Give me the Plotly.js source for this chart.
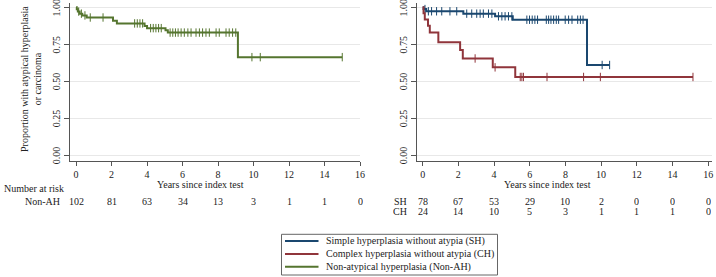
<!DOCTYPE html>
<html>
<head>
<meta charset="utf-8">
<script src="https://cdn.plot.ly/plotly-3.0.1.min.js"></script>
<style>html,body{margin:0;padding:0;background:#fff;}#chart{width:716px;height:277px;}</style>
</head>
<body>
<div id="chart"></div>
<script>
// ---- Data ----
// Non-atypical hyperplasia (left panel)
var nonAH_eventTimes = [0.04, 0.1, 0.2, 0.35, 0.6, 2.08, 2.3, 3.86, 4.0, 5.04, 5.17, 9.12];
var nonAH_surv       = [0.985, 0.970, 0.956, 0.944, 0.930, 0.908, 0.890, 0.873, 0.858, 0.843, 0.828, 0.662];
var nonAH_end = 15.0;
var nonAH_censor = [0.15, 0.3, 0.5, 0.8, 1.52, 3.3, 3.45, 3.6, 3.75, 4.2, 4.35, 4.5, 4.65, 4.8,
  5.3, 5.45, 5.6, 5.75, 5.92, 6.1, 6.3, 6.48, 6.76, 6.95, 7.13, 7.32, 7.51, 7.89, 8.07, 8.45,
  8.63, 8.82, 9.0, 9.91, 10.38, 15.0];

// Simple hyperplasia without atypia (right panel)
var SH_eventTimes = [0.05, 0.2, 2.28, 4.06, 5.05, 9.21];
var SH_surv       = [0.987, 0.972, 0.956, 0.938, 0.915, 0.609];
var SH_end = 10.48;
var SH_censor = [0.13, 0.32, 0.5, 0.78, 1.07, 1.53, 1.91, 2.47, 2.75, 3.03, 3.22, 3.4, 3.69, 3.88,
  4.25, 4.44, 4.62, 4.81, 5.0, 5.84, 5.99, 6.14, 6.29, 6.44, 6.93, 7.06, 7.19, 7.34, 7.49, 7.62,
  7.99, 8.18, 8.37, 8.69, 8.84, 8.99, 10.06, 10.48];

// Complex hyperplasia without atypia (right panel)
var CH_eventTimes = [0.05, 0.12, 0.3, 0.4, 0.88, 2.1, 2.25, 3.93, 5.19];
var CH_surv       = [0.958, 0.917, 0.875, 0.828, 0.762, 0.711, 0.653, 0.593, 0.528];
var CH_end = 15.15;
var CH_censor = [2.94, 4.06, 5.47, 5.56, 5.65, 6.97, 9.02, 9.96, 15.15];

// Number at risk
var riskTimes = [0, 2, 4, 6, 8, 10, 12, 14, 16];
var risk_nonAH = [102, 81, 63, 34, 13, 3, 1, 1, 0];
var risk_SH = [78, 67, 53, 29, 10, 2, 0, 0, 0];
var risk_CH = [24, 14, 10, 5, 3, 1, 1, 1, 0];

var xTicks = [0, 2, 4, 6, 8, 10, 12, 14, 16];
var yTicks = [0, 0.25, 0.5, 0.75, 1];
var yTickText = ['0.00', '0.25', '0.50', '0.75', '1.00'];

var seriesNames = ['Simple hyperplasia without atypia (SH)',
                   'Complex hyperplasia without atypia (CH)',
                   'Non-atypical hyperplasia (Non-AH)'];
var colSH = '#1a476f', colCH = '#90353b', colNon = '#55752f';

// ---- Build step curves ----
function stepXY(times, surv, end) {
  var x = [0], y = [1];
  for (var i = 0; i < times.length; i++) { x.push(times[i]); y.push(surv[i]); }
  x.push(end); y.push(surv[surv.length - 1]);
  return {x: x, y: y};
}
function survAt(times, surv, t) {
  var s = 1;
  for (var i = 0; i < times.length; i++) { if (times[i] <= t) s = surv[i]; }
  return s;
}
function censorY(times, surv, cens) { return cens.map(function (t) { return survAt(times, surv, t); }); }

var font = '"Liberation Serif", "Times New Roman", serif';
var txtCol = '#222';

var nA = stepXY(nonAH_eventTimes, nonAH_surv, nonAH_end);
var sh = stepXY(SH_eventTimes, SH_surv, SH_end);
var ch = stepXY(CH_eventTimes, CH_surv, CH_end);

function curve(d, col, xa, ya) {
  return {x: d.x, y: d.y, type: 'scatter', mode: 'lines', line: {shape: 'hv', color: col, width: 2},
          xaxis: xa, yaxis: ya, showlegend: false, hoverinfo: 'skip'};
}
function cens(times, surv, c, col, xa, ya) {
  return {x: c, y: censorY(times, surv, c), type: 'scatter', mode: 'markers',
          marker: {symbol: 'line-ns-open', size: 6, color: col, line: {color: col, width: 1}},
          xaxis: xa, yaxis: ya, showlegend: false, hoverinfo: 'skip'};
}

var data = [
  curve(nA, colNon, 'x', 'y'),
  cens(nonAH_eventTimes, nonAH_surv, nonAH_censor, colNon, 'x', 'y'),
  curve(sh, colSH, 'x2', 'y2'),
  cens(SH_eventTimes, SH_surv, SH_censor, colSH, 'x2', 'y2'),
  curve(ch, colCH, 'x2', 'y2'),
  cens(CH_eventTimes, CH_surv, CH_censor, colCH, 'x2', 'y2')
];

function py(px) { return 1 - px / 277; }
function pxX(px) { return px / 716; }

var xaxisBase = {
  tickvals: xTicks, showgrid: false, zeroline: false, showline: true, linecolor: '#555', linewidth: 1,
  ticks: 'outside', ticklen: 4, tickcolor: '#555', tickfont: {family: font, size: 10, color: txtCol},
  fixedrange: true
};
var yaxisBase = {
  tickvals: yTicks, ticktext: yTickText, tickangle: -90, range: [-0.04, 1.028],
  showgrid: true, gridcolor: '#e8e8e8', gridwidth: 1, zeroline: false, showline: true,
  linecolor: '#555', linewidth: 1, ticks: 'outside', ticklen: 5, tickcolor: '#555',
  tickfont: {family: font, size: 10, color: txtCol}, fixedrange: true, ticklabeloverflow: 'allow',
  ticklabelshift: 2
};

var ann = [];
function txt(x, y, t, xref, xanchor, extra) {
  var a = {x: x, y: y, xref: xref, yref: 'paper', text: t, showarrow: false, xanchor: xanchor || 'center',
           yanchor: 'middle', font: {family: font, size: 10, color: txtCol}};
  if (extra) for (var k in extra) a[k] = extra[k];
  ann.push(a);
}
// axis titles
txt(7, py(184), 'Years since index test', 'x');
txt(7, py(184), 'Years since index test', 'x2');
txt(pxX(31), py(79), 'Proportion with atypical hyperplasia<br>or carcinoma', 'paper', 'center', {textangle: -90});
// number at risk
txt(pxX(2), py(188.5), 'Number at risk', 'paper', 'left');
var rowBox = {height: 10};
txt(pxX(62), py(201), 'Non-AH', 'paper', 'right', rowBox);
txt(pxX(409), py(201), 'SH', 'paper', 'right', rowBox);
txt(pxX(409), py(211), 'CH', 'paper', 'right', rowBox);
for (var i = 0; i < riskTimes.length; i++) {
  txt(riskTimes[i], py(201), String(risk_nonAH[i]), 'x', 'center', rowBox);
  txt(riskTimes[i], py(201), String(risk_SH[i]), 'x2', 'center', rowBox);
  txt(riskTimes[i], py(211), String(risk_CH[i]), 'x2', 'center', rowBox);
}
// legend (manual, compact)
var legRows = [241, 254, 266.7];
var legCols = [colSH, colCH, colNon];
var shapes = [{type: 'rect', xref: 'paper', yref: 'paper', x0: pxX(281.5), x1: pxX(497.5), y0: py(275),
               y1: py(234.3), line: {color: '#666', width: 1}, fillcolor: 'rgba(0,0,0,0)'}];
for (var j = 0; j < 3; j++) {
  shapes.push({type: 'line', xref: 'paper', yref: 'paper', x0: pxX(285), x1: pxX(318.5), y0: py(legRows[j]),
               y1: py(legRows[j]), line: {color: legCols[j], width: 2}});
  txt(pxX(324), py(legRows[j]), seriesNames[j], 'paper', 'left');
}

var layout = {
  width: 716, height: 277, margin: {l: 0, r: 0, t: 0, b: 0},
  paper_bgcolor: '#fff', plot_bgcolor: '#fff', showlegend: false,
  font: {family: font, size: 10, color: txtCol},
  xaxis: Object.assign({}, xaxisBase, {domain: [69.5 / 716, 360 / 716], range: [-0.37, 16], anchor: 'y'}),
  xaxis2: Object.assign({}, xaxisBase, {domain: [417.3 / 716, 711.7 / 716], range: [-0.3, 16.2], anchor: 'y2'}),
  yaxis: Object.assign({}, yaxisBase, {domain: [1 - 161 / 277, 1 - 3 / 277], anchor: 'x'}),
  yaxis2: Object.assign({}, yaxisBase, {domain: [1 - 161 / 277, 1 - 3 / 277], anchor: 'x2'}),
  annotations: ann, shapes: shapes
};

Plotly.newPlot('chart', data, layout, {displayModeBar: false, staticPlot: true});
</script>
</body>
</html>
